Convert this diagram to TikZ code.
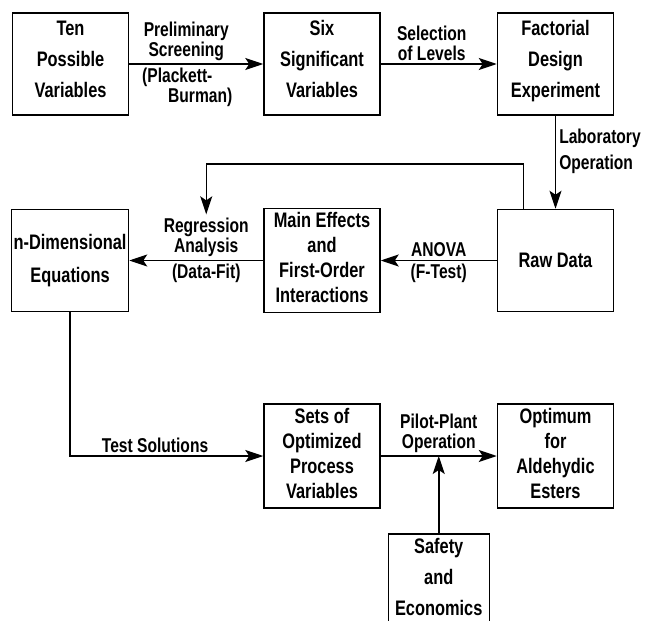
\documentclass[tikz,border=0pt]{standalone}
\usepackage{fontspec}
\setmainfont{Liberation Sans}[FakeStretch=0.78]
\usetikzlibrary{arrows.meta, positioning}

\begin{document}
\begin{tikzpicture}[
    node distance=1.2cm,
    block/.style={rectangle, draw, line width=1.5pt, align=center, inner sep=2pt, minimum width=116pt, minimum height=102pt, font=\bfseries\fontsize{21}{31}\selectfont},
    three/.style={block, text depth=10pt},
    tall/.style={block, minimum height=104pt, text depth=6pt, font=\bfseries\fontsize{21}{25}\selectfont},
    arrow/.style={-{Stealth[length=18pt, width=12pt, inset=4pt]}, line width=1.5pt},
    lbl/.style={font=\bfseries\fontsize{20}{20}\selectfont, align=center, inner sep=3pt}
]
    \useasboundingbox (-70.5pt,64pt) rectangle (578.5pt,-557pt);

    \node[three] (ten) {Ten\\Possible\\Variables};
    \node[three, right=134pt of ten] (six) {Six\\Significant\\Variables};
    \node[three, right=116pt of six] (fact) {Factorial\\Design\\Experiment};
    \node[block, below=93pt of fact] (raw) {Raw Data};
    \node[tall, left=116pt of raw] (main) {Main Effects\\and\\First-Order\\Interactions};
    \node[block, left=134pt of main, font=\bfseries\fontsize{21}{33}\selectfont] (ndim) {n-Dimensional\\Equations};
    \node[tall, below=90pt of main] (sets) {Sets of\\Optimized\\Process\\Variables};
    \node[tall, right=116pt of sets] (opt) {Optimum\\for\\Aldehydic\\Esters};
    \coordinate[right=58pt of sets.east] (join);
    \node[three, minimum width=101pt, text depth=16pt, below=77pt of join] (safety) {Safety\\and\\Economics};

    \draw[arrow] (ten) -- node[lbl, above, xshift=-10pt] {Preliminary\\Screening} node[lbl, below, xshift=-9pt, align=left] {(Plackett-\\\hspace*{1.3em}Burman)} (six);
    \draw[arrow] (six) -- node[lbl, above, xshift=-7pt] {Selection\\of Levels} (fact);
    \draw[arrow] (fact) -- node[lbl, right, pos=0.38, align=left, font=\bfseries\fontsize{20}{26}\selectfont] {Laboratory\\Operation} (raw);
    \draw[arrow] (main) -- node[lbl, above, xshift=10pt] (reg) {Regression\\Analysis} node[lbl, below, xshift=10pt] {(Data-Fit)} (ndim);
    \draw[arrow] (raw) -- node[lbl, above] {ANOVA} node[lbl, below] {(F-Test)} (main);
    \draw[arrow] ([xshift=-32pt]raw.north) -- ++(0,45pt) -| (reg.north);
    \draw[arrow] (ndim) |- node[lbl, above, pos=0.72] {Test Solutions} (sets);
    \draw[arrow] (sets) -- node[lbl, above] {Pilot-Plant\\Operation} (opt);
    \draw[arrow] (safety) -- (join);
\end{tikzpicture}
\end{document}
